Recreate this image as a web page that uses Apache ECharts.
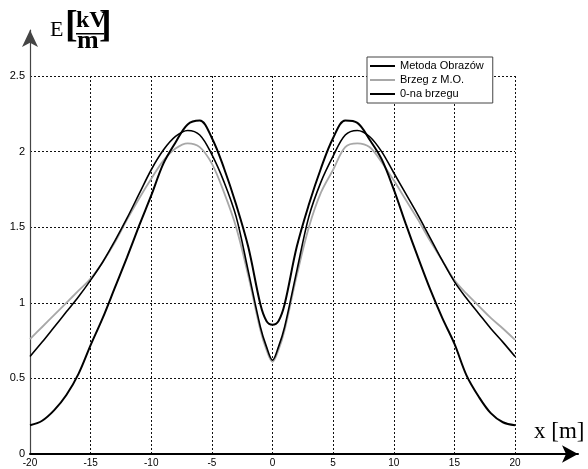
<!DOCTYPE html>
<html>
<head>
<meta charset="utf-8">
<script src="https://cdn.jsdelivr.net/npm/echarts@6/dist/echarts.min.js"></script>
<style>html,body{margin:0;padding:0;background:#fff}#c{width:588px;height:469px}</style>
</head>
<body>
<div id="c"></div>
<script>
// x positions [m]
var xs = [-20,-19,-18,-17,-16,-15,-14,-13,-12,-11,-10,-9,-8,-7,-6,-5,-4,-3,-2,-1,-0.5,0,
          0.5,1,2,3,4,5,6,7,8,9,10,11,12,13,14,15,16,17,18,19,20];
// E [kV/m]
var metodaObrazow = [0.645,0.74,0.84,0.94,1.04,1.15,1.27,1.41,1.56,1.72,1.88,2.01,2.10,2.14,2.11,1.98,1.80,1.57,1.21,0.84,0.71,0.62,
                     0.71,0.84,1.21,1.57,1.80,1.97,2.11,2.14,2.10,2.00,1.86,1.72,1.58,1.43,1.28,1.14,1.03,0.93,0.83,0.74,0.645];
var brzegZMO = [0.76,0.84,0.92,1.00,1.08,1.16,1.27,1.40,1.55,1.69,1.82,1.94,2.02,2.055,2.03,1.92,1.73,1.50,1.18,0.82,0.69,0.61,
                0.69,0.82,1.18,1.50,1.73,1.88,2.03,2.055,2.03,1.93,1.81,1.68,1.55,1.41,1.28,1.15,1.06,0.98,0.90,0.83,0.755];
var naBrzegu0 = [0.19,0.22,0.29,0.39,0.53,0.72,0.90,1.10,1.30,1.51,1.71,1.92,2.06,2.18,2.205,2.09,1.89,1.65,1.37,0.99,0.88,0.855,
                 0.88,0.99,1.37,1.65,1.89,2.09,2.205,2.19,2.08,1.95,1.75,1.52,1.30,1.09,0.90,0.73,0.52,0.38,0.27,0.21,0.19];
var seriesNames = ['Metoda Obrazów','Brzeg z M.O.','0-na brzegu'];
var xTicks = {min:-20, max:20, interval:5};
var yTicks = {min:0, max:2.5, interval:0.5};

function pairs(v){ return xs.map(function(x,i){ return [x, v[i]]; }); }

var chart = echarts.init(document.getElementById('c'), null, {renderer:'canvas'});
var grid = {type:[2,2], color:'#111', width:1};
var option = {
  backgroundColor:'#fff',
  animation:false,
  grid:[
    {left:30, right:73, top:76, bottom:15},
    {left:30, right:10, top:30, bottom:15}
  ],
  xAxis:[
    {gridIndex:0, type:'value', min:xTicks.min, max:xTicks.max, interval:xTicks.interval,
     axisLine:{show:false}, axisTick:{show:false},
     axisLabel:{color:'#000', fontSize:10, fontFamily:'Liberation Sans, Arial', margin:4},
     splitLine:{show:true, lineStyle:grid}},
    {gridIndex:1, type:'value', min:0, max:1,
     axisLine:{show:true, onZero:false, symbol:['none','arrow'], symbolSize:[13,16], symbolOffset:[0,0],
               lineStyle:{color:'#000', width:2}},
     axisTick:{show:false}, axisLabel:{show:false}, splitLine:{show:false}}
  ],
  yAxis:[
    {gridIndex:0, type:'value', min:yTicks.min, max:yTicks.max, interval:yTicks.interval,
     axisLine:{show:false}, axisTick:{show:false},
     axisLabel:{color:'#000', fontSize:11, fontFamily:'Liberation Sans, Arial', margin:5},
     splitLine:{show:true, lineStyle:grid}},
    {gridIndex:1, type:'value', min:0, max:1,
     axisLine:{show:true, onZero:false, symbol:['none','arrow'], symbolSize:[12,17],
               lineStyle:{color:'#444', width:1.2}},
     axisTick:{show:false}, axisLabel:{show:false}, splitLine:{show:false}}
  ],
  legend:{
    show:true, orient:'vertical', left:367, top:57, selectedMode:false,
    icon:'rect', itemWidth:25, itemHeight:2, itemGap:0,
    padding:[2,9,2,3],
    backgroundColor:'#fff', borderColor:'#444', borderWidth:1,
    textStyle:{color:'#000', fontSize:11, lineHeight:14, fontFamily:'Liberation Sans, Arial'},
    data:seriesNames
  },
  series:[
    {name:seriesNames[0], type:'line', xAxisIndex:0, yAxisIndex:0, data:pairs(metodaObrazow),
     symbol:'none', smooth:0.35, lineStyle:{color:'#000', width:1.6}, itemStyle:{color:'#000'}, z:3},
    {name:seriesNames[1], type:'line', xAxisIndex:0, yAxisIndex:0, data:pairs(brzegZMO),
     symbol:'none', smooth:0.35, lineStyle:{color:'#a8a8a8', width:1.8}, itemStyle:{color:'#a8a8a8'}, z:2},
    {name:seriesNames[2], type:'line', xAxisIndex:0, yAxisIndex:0, data:pairs(naBrzegu0),
     symbol:'none', smooth:0.35, lineStyle:{color:'#000', width:2}, itemStyle:{color:'#000'}, z:4}
  ],
  graphic:[
    {type:'text', left:50, top:19, style:{text:'E', font:'22px "Liberation Serif", "Times New Roman", serif', fill:'#000'}},
    {type:'text', left:65, top:8, style:{text:'[', font:'bold 38px "Liberation Serif", serif', fill:'#000'}},
    {type:'text', left:76, top:9, style:{text:'kV', font:'bold 24px "Liberation Serif", serif', fill:'#000'}},
    {type:'rect', shape:{x:76, y:33, width:28, height:1.5}, style:{fill:'#000'}},
    {type:'text', left:77, top:28, style:{text:'m', font:'bold 26px "Liberation Serif", serif', fill:'#000'}},
    {type:'text', left:99, top:8, style:{text:']', font:'bold 38px "Liberation Serif", serif', fill:'#000'}},
    {type:'text', left:534, top:420, style:{text:'x [m]', font:'23px "Liberation Serif", "Times New Roman", serif', fill:'#000'}}
  ]
};
chart.setOption(option);
</script>
</body>
</html>
